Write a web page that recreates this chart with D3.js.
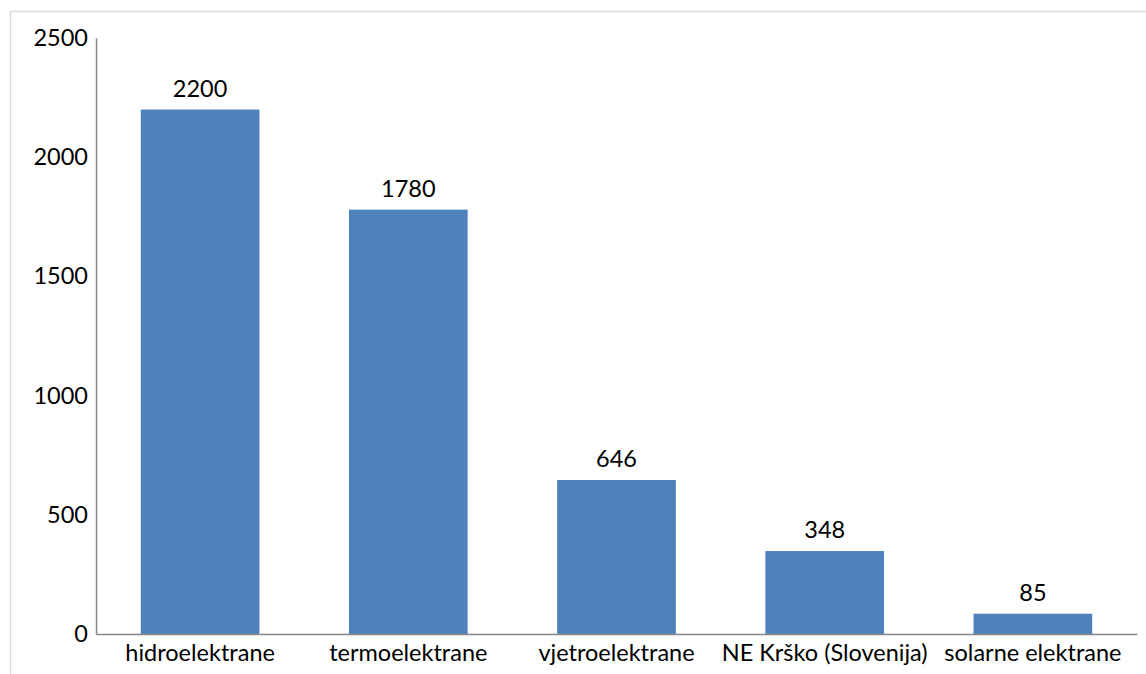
<!DOCTYPE html>
<html>
<head>
<meta charset="utf-8">
<script src="https://cdn.jsdelivr.net/npm/d3@7"></script>
<style>
  body { margin: 0; background: #fff; }
  svg { display: block; font-family: Lato, "Open Sans", sans-serif; }
</style>
</head>
<body>
<svg id="chart" width="1146" height="674"></svg>
<script>
// chart data
var categories = ["hidroelektrane", "termoelektrane", "vjetroelektrane", "NE Krško (Slovenija)", "solarne elektrane"];
var values = [2200, 1780, 646, 348, 85];
var yTicks = [0, 500, 1000, 1500, 2000, 2500];

var svg = d3.select("#chart");
var margin = { left: 96, right: 9, top: 38, bottom: 40 };
var width = 1146, height = 674;
var fs = 23.5;

// outer frame of the chart area
svg.append("rect")
	.attr("x", 10.5).attr("y", 11.5)
	.attr("width", 1160).attr("height", 700)
	.attr("fill", "none")
	.attr("stroke", "#d9d9d9")
	.attr("stroke-width", 1.5);

var x = d3.scaleBand()
	.domain(categories)
	.range([margin.left, width - margin.right])
	.paddingInner(0.43)
	.paddingOuter(0.215);

var y = d3.scaleLinear()
	.domain([0, 2500])
	.range([height - margin.bottom, margin.top]);

// bars
svg.selectAll(".bar")
	.data(values)
	.enter()
	.append("rect")
	.attr("class", "bar")
	.attr("x", (d, i) => x(categories[i]))
	.attr("y", d => y(d))
	.attr("width", x.bandwidth())
	.attr("height", d => y(0) - y(d))
	.attr("fill", "#4f81bd");

// value labels
svg.selectAll(".val")
	.data(values)
	.enter()
	.append("text")
	.attr("class", "val")
	.attr("x", (d, i) => x(categories[i]) + x.bandwidth() / 2)
	.attr("y", d => y(d) - 13)
	.attr("text-anchor", "middle")
	.attr("font-size", fs)
	.attr("fill", "#000")
	.text(d => d);

// y axis
var yAxis = svg.append("g")
	.attr("transform", `translate(${margin.left},0)`)
	.call(d3.axisLeft(y).tickValues(yTicks).tickSize(0).tickPadding(8).tickFormat(d3.format("d")));
yAxis.select(".domain").attr("stroke", "#868686").attr("stroke-width", 1.5);
yAxis.selectAll("text").attr("font-size", fs).attr("fill", "#000").attr("font-family", "Lato, sans-serif");

// x axis
var xAxis = svg.append("g")
	.attr("transform", `translate(0,${y(0)})`)
	.call(d3.axisBottom(x).tickSize(0).tickPadding(10));
xAxis.select(".domain").attr("stroke", "#868686").attr("stroke-width", 1.5);
xAxis.selectAll("text").attr("font-size", fs).attr("fill", "#000").attr("font-family", "Lato, sans-serif");
</script>
</body>
</html>
